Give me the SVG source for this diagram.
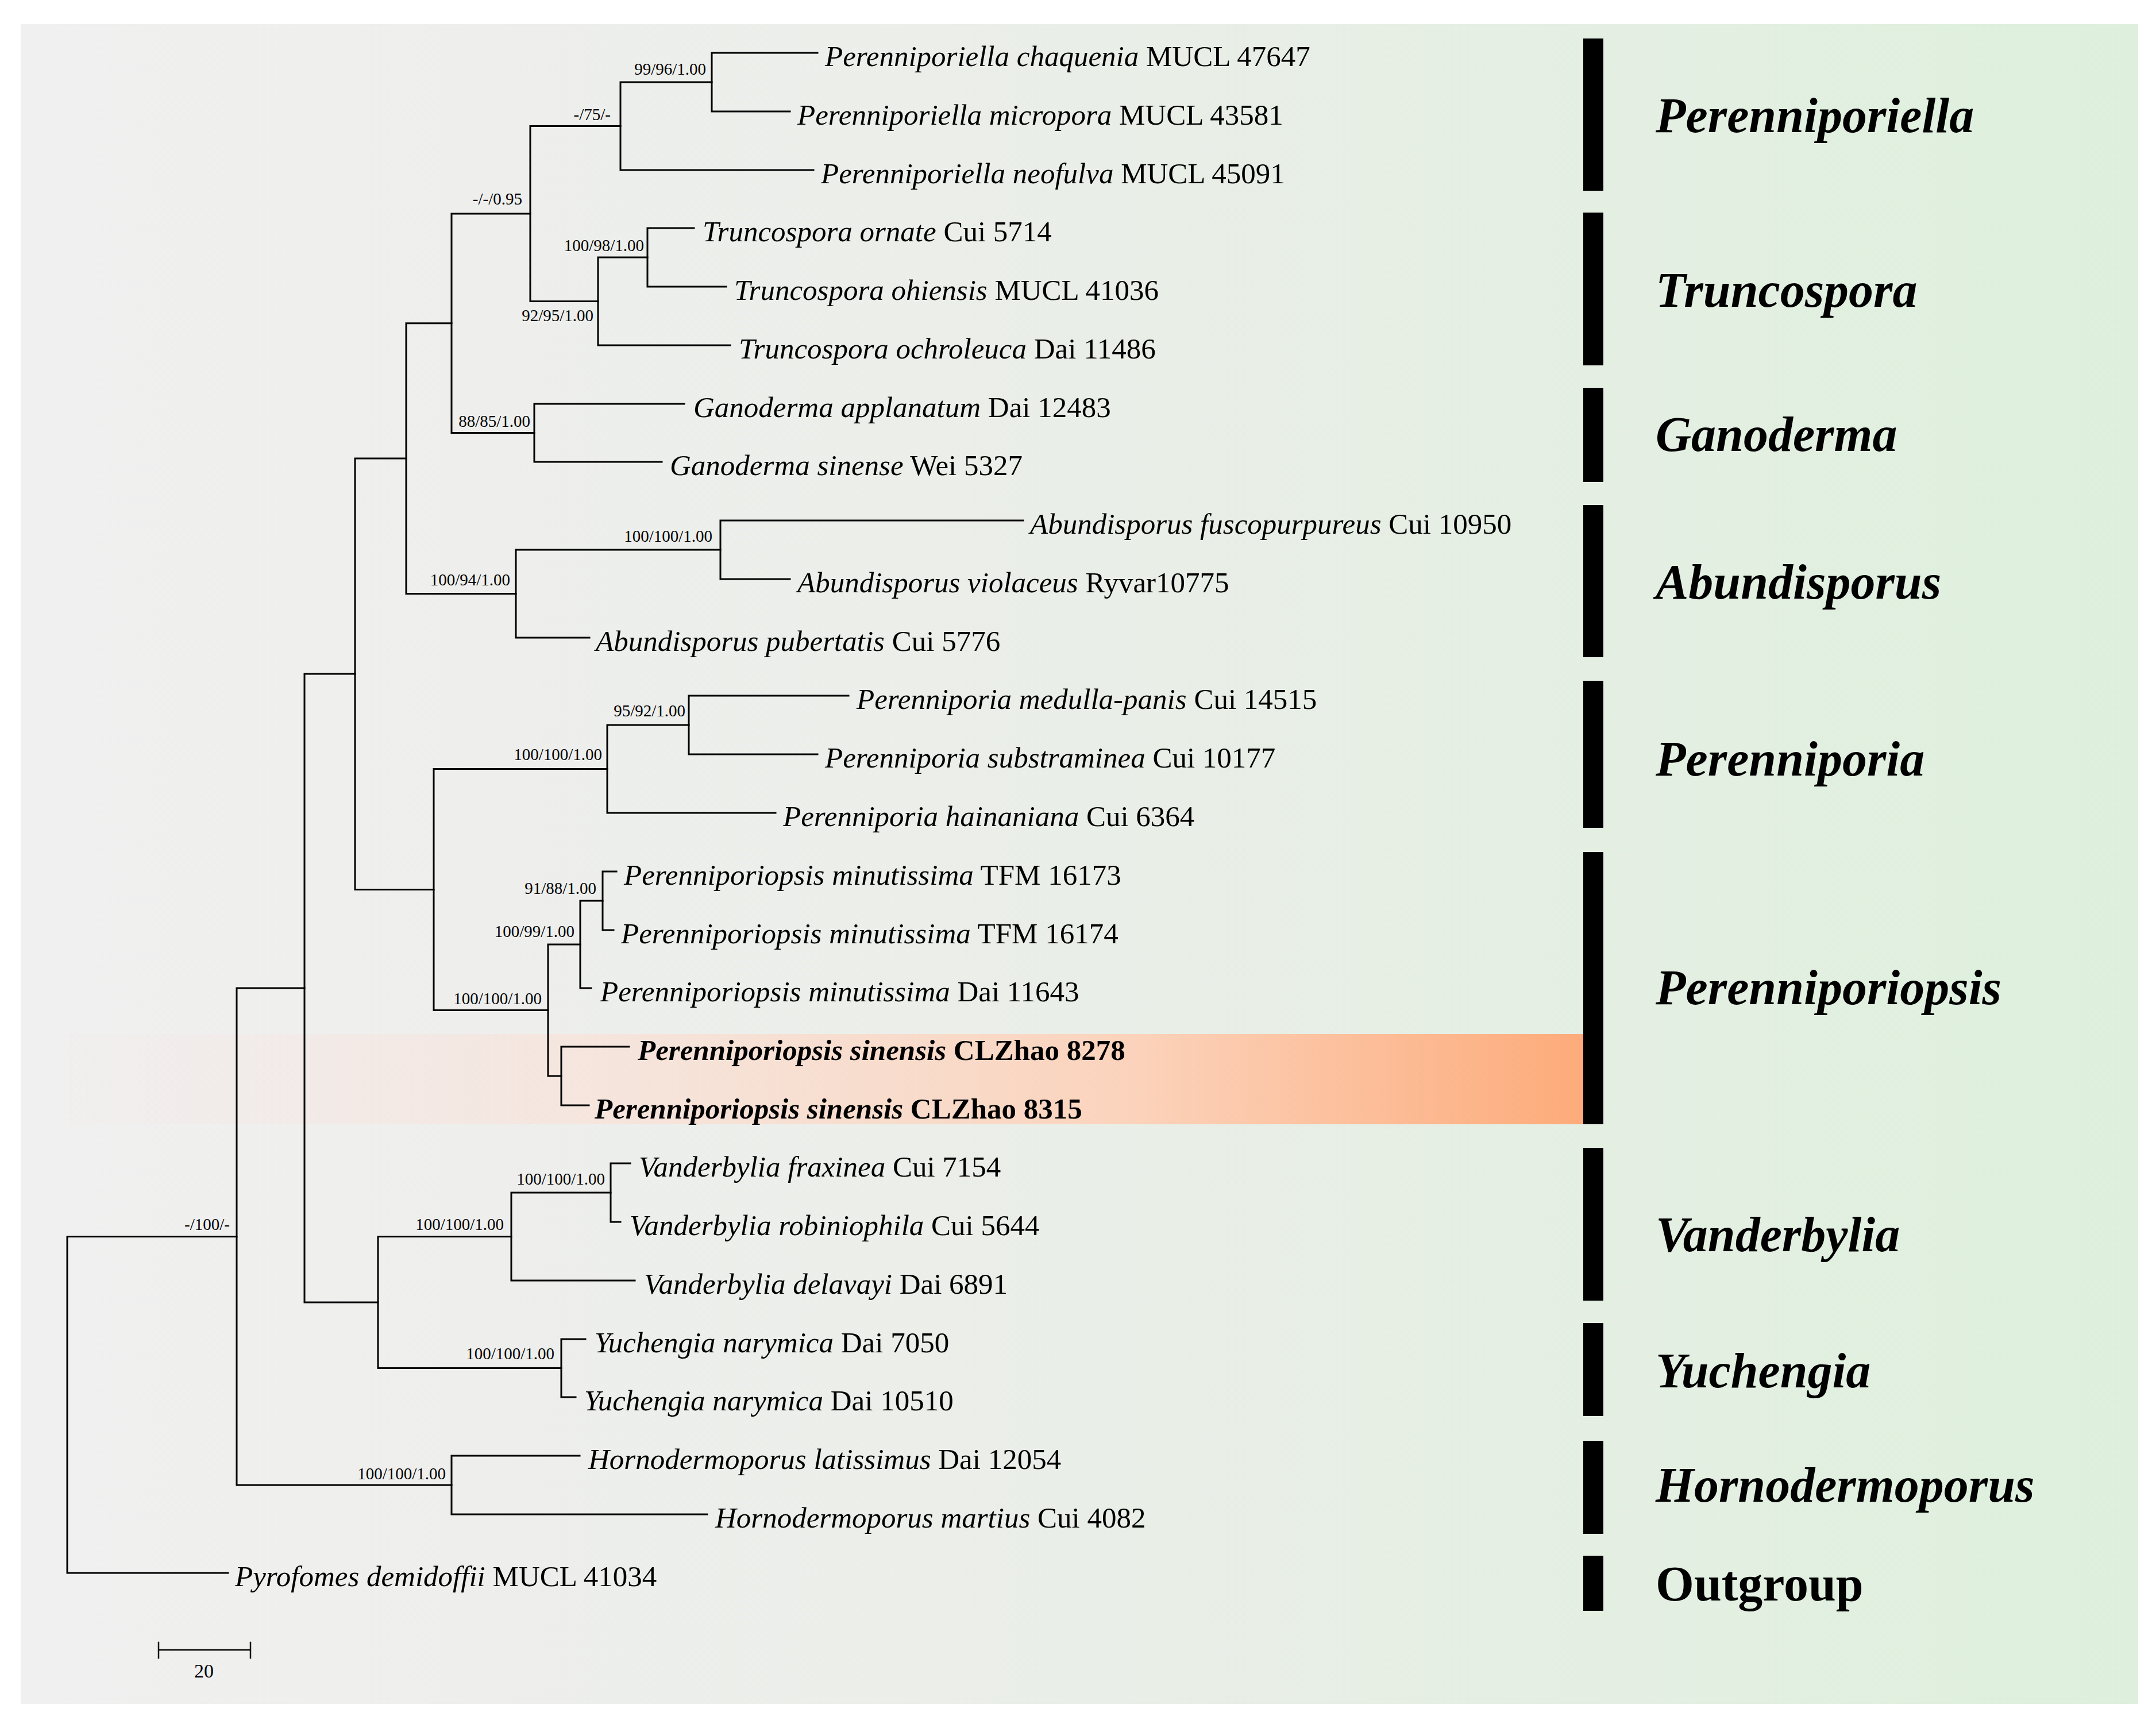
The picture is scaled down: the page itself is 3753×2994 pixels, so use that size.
<svg xmlns="http://www.w3.org/2000/svg" width="3753" height="2994" viewBox="0 0 3753 2994">
<defs>
<linearGradient id="bg" x1="0" y1="0" x2="1" y2="0">
<stop offset="0" stop-color="#F0F0F0"/>
<stop offset="0.15" stop-color="#EFEFEE"/>
<stop offset="0.5" stop-color="#EAEEE8"/>
<stop offset="1" stop-color="#DEF0DD"/>
</linearGradient>
<linearGradient id="hl" x1="0" y1="0" x2="1" y2="0">
<stop offset="0" stop-color="#F6E4E2" stop-opacity="0.1"/>
<stop offset="0.35" stop-color="#F8E2D8" stop-opacity="0.75"/>
<stop offset="0.7" stop-color="#FBD3BC"/>
<stop offset="1" stop-color="#FDAB7A"/>
</linearGradient>
<style>
.br{fill:none;stroke:#000;stroke-width:3;stroke-linecap:square}
.sp{font-family:"Liberation Serif","Times New Roman",serif;font-size:51px;fill:#000}
.sp tspan.i{font-style:italic}
.b{font-weight:bold}
.sup{font-family:"Liberation Serif","Times New Roman",serif;font-size:29px;fill:#000;text-anchor:end}
.cl{font-family:"Liberation Serif","Times New Roman",serif;font-size:86px;font-weight:bold;font-style:italic;fill:#000}
.cl.up{font-style:normal}
.bar{fill:#000}
</style>
</defs>
<rect x="0" y="0" width="3753" height="2994" fill="#FFFFFF"/>
<rect x="36" y="42" width="3686" height="2924" fill="url(#bg)"/>
<rect x="118" y="1800" width="2638" height="157" fill="url(#hl)"/>

<g id="connectors">
<path class="br" d="M1423 92 H1239 V194 H1375"/>
<path class="br" d="M1239 143 H1080 V296 H1416"/>
<path class="br" d="M1208 397 H1127 V499 H1264"/>
<path class="br" d="M1127 448 H1041 V601 H1271"/>
<path class="br" d="M1080 219.5 H923 V524.5 H1041"/>
<path class="br" d="M1191 703 H930 V804 H1152"/>
<path class="br" d="M923 372 H786 V753.5 H930"/>
<path class="br" d="M1781 906 H1254 V1008 H1375"/>
<path class="br" d="M1254 957 H898 V1110 H1026"/>
<path class="br" d="M786 562.75 H707 V1033.5 H898"/>
<path class="br" d="M1477 1211 H1199 V1313 H1423"/>
<path class="br" d="M1199 1262 H1057 V1415 H1350"/>
<path class="br" d="M1073 1517 H1049 V1619 H1068"/>
<path class="br" d="M1049 1568 H1010 V1720 H1029"/>
<path class="br" d="M1095 1822 H977 V1924 H1025"/>
<path class="br" d="M1010 1644 H954 V1873 H977"/>
<path class="br" d="M1057 1338.5 H755 V1758.5 H954"/>
<path class="br" d="M707 798 H618 V1548.5 H755"/>
<path class="br" d="M1097 2025 H1063 V2127 H1080"/>
<path class="br" d="M1063 2076 H890 V2229 H1105"/>
<path class="br" d="M1019 2331 H977 V2432 H1002"/>
<path class="br" d="M890 2152.5 H658 V2381.5 H977"/>
<path class="br" d="M618 1173 H530 V2267 H658"/>
<path class="br" d="M1009 2534 H786 V2636 H1231"/>
<path class="br" d="M530 1720 H412 V2585 H786"/>
<path class="br" d="M412 2152.5 H117 V2738 H397"/>
</g>

<g id="support-values">
<text class="sup" x="1229" y="130">99/96/1.00</text>
<text class="sup" x="1063" y="209">-/75/-</text>
<text class="sup" x="909" y="356">-/-/0.95</text>
<text class="sup" x="1121" y="437">100/98/1.00</text>
<text class="sup" x="1033" y="559">92/95/1.00</text>
<text class="sup" x="923" y="743">88/85/1.00</text>
<text class="sup" x="1240" y="943">100/100/1.00</text>
<text class="sup" x="888" y="1019">100/94/1.00</text>
<text class="sup" x="1193" y="1247">95/92/1.00</text>
<text class="sup" x="1048" y="1323">100/100/1.00</text>
<text class="sup" x="1038" y="1556">91/88/1.00</text>
<text class="sup" x="1000" y="1631">100/99/1.00</text>
<text class="sup" x="943" y="1748">100/100/1.00</text>
<text class="sup" x="1053" y="2062">100/100/1.00</text>
<text class="sup" x="877" y="2141">100/100/1.00</text>
<text class="sup" x="400" y="2141">-/100/-</text>
<text class="sup" x="965" y="2366">100/100/1.00</text>
<text class="sup" x="776" y="2575">100/100/1.00</text>
</g>

<g id="taxa">
<g id="t1"><text class="sp" x="1436" y="115"><tspan class="i">Perenniporiella chaquenia</tspan> MUCL 47647</text></g>
<g id="t2"><text class="sp" x="1388" y="217"><tspan class="i">Perenniporiella micropora</tspan> MUCL 43581</text></g>
<g id="t3"><text class="sp" x="1429" y="319"><tspan class="i">Perenniporiella neofulva</tspan> MUCL 45091</text></g>
<g id="t4"><text class="sp" x="1223" y="420"><tspan class="i">Truncospora ornate</tspan> Cui 5714</text></g>
<g id="t5"><text class="sp" x="1278" y="522"><tspan class="i">Truncospora ohiensis</tspan> MUCL 41036</text></g>
<g id="t6"><text class="sp" x="1286" y="624"><tspan class="i">Truncospora ochroleuca</tspan> Dai 11486</text></g>
<g id="t7"><text class="sp" x="1207" y="726"><tspan class="i">Ganoderma applanatum</tspan> Dai 12483</text></g>
<g id="t8"><text class="sp" x="1166" y="827"><tspan class="i">Ganoderma sinense</tspan> Wei 5327</text></g>
<g id="t9"><text class="sp" x="1793" y="929"><tspan class="i">Abundisporus fuscopurpureus</tspan> Cui 10950</text></g>
<g id="t10"><text class="sp" x="1388" y="1031"><tspan class="i">Abundisporus violaceus</tspan> Ryvar10775</text></g>
<g id="t11"><text class="sp" x="1037" y="1133"><tspan class="i">Abundisporus pubertatis</tspan> Cui 5776</text></g>
<g id="t12"><text class="sp" x="1491" y="1234"><tspan class="i">Perenniporia medulla-panis</tspan> Cui 14515</text></g>
<g id="t13"><text class="sp" x="1436" y="1336"><tspan class="i">Perenniporia substraminea</tspan> Cui 10177</text></g>
<g id="t14"><text class="sp" x="1363" y="1438"><tspan class="i">Perenniporia hainaniana</tspan> Cui 6364</text></g>
<g id="t15"><text class="sp" x="1086" y="1540"><tspan class="i">Perenniporiopsis minutissima</tspan> TFM 16173</text></g>
<g id="t16"><text class="sp" x="1081" y="1642"><tspan class="i">Perenniporiopsis minutissima</tspan> TFM 16174</text></g>
<g id="t17"><text class="sp" x="1045" y="1743"><tspan class="i">Perenniporiopsis minutissima</tspan> Dai 11643</text></g>
<g id="t18"><text class="sp b" x="1110" y="1845"><tspan class="i">Perenniporiopsis sinensis</tspan> CLZhao 8278</text></g>
<g id="t19"><text class="sp b" x="1035" y="1947"><tspan class="i">Perenniporiopsis sinensis</tspan> CLZhao 8315</text></g>
<g id="t20"><text class="sp" x="1112" y="2048"><tspan class="i">Vanderbylia fraxinea</tspan> Cui 7154</text></g>
<g id="t21"><text class="sp" x="1096" y="2150"><tspan class="i">Vanderbylia robiniophila</tspan> Cui 5644</text></g>
<g id="t22"><text class="sp" x="1121" y="2252"><tspan class="i">Vanderbylia delavayi</tspan> Dai 6891</text></g>
<g id="t23"><text class="sp" x="1035" y="2354"><tspan class="i">Yuchengia narymica</tspan> Dai 7050</text></g>
<g id="t24"><text class="sp" x="1017" y="2455"><tspan class="i">Yuchengia narymica</tspan> Dai 10510</text></g>
<g id="t25"><text class="sp" x="1024" y="2557"><tspan class="i">Hornodermoporus latissimus</tspan> Dai 12054</text></g>
<g id="t26"><text class="sp" x="1245" y="2659"><tspan class="i">Hornodermoporus martius</tspan> Cui 4082</text></g>
<g id="t27"><text class="sp" x="409" y="2761"><tspan class="i">Pyrofomes demidoffii</tspan> MUCL 41034</text></g>
</g>

<g id="clades">
<g id="c-perenniporiella"><rect class="bar" x="2756" y="67" width="35" height="265"/><text class="cl" x="2882" y="230">Perenniporiella</text></g>
<g id="c-truncospora"><rect class="bar" x="2756" y="370" width="35" height="266"/><text class="cl" x="2882" y="534">Truncospora</text></g>
<g id="c-ganoderma"><rect class="bar" x="2756" y="675" width="35" height="164"/><text class="cl" x="2882" y="785">Ganoderma</text></g>
<g id="c-abundisporus"><rect class="bar" x="2756" y="879" width="35" height="265"/><text class="cl" x="2882" y="1042">Abundisporus</text></g>
<g id="c-perenniporia"><rect class="bar" x="2756" y="1185" width="35" height="256"/><text class="cl" x="2882" y="1350">Perenniporia</text></g>
<g id="c-perenniporiopsis"><rect class="bar" x="2756" y="1483" width="35" height="474"/><text class="cl" x="2882" y="1748">Perenniporiopsis</text></g>
<g id="c-vanderbylia"><rect class="bar" x="2756" y="1998" width="35" height="266"/><text class="cl" x="2882" y="2178">Vanderbylia</text></g>
<g id="c-yuchengia"><rect class="bar" x="2756" y="2303" width="35" height="162"/><text class="cl" x="2882" y="2415">Yuchengia</text></g>
<g id="c-hornodermoporus"><rect class="bar" x="2756" y="2508" width="35" height="162"/><text class="cl" x="2882" y="2614">Hornodermoporus</text></g>
<g id="c-outgroup"><rect class="bar" x="2756" y="2708" width="35" height="96"/><text class="cl up" x="2882" y="2786">Outgroup</text></g>
</g>

<g id="scale-bar">
<path class="br" style="stroke-width:2.5" d="M276 2872 H436 M276 2859 V2886 M436 2859 V2886"/>
<text x="355" y="2920" font-family="Liberation Serif, Times New Roman, serif" font-size="34" text-anchor="middle">20</text>
</g>
</svg>
